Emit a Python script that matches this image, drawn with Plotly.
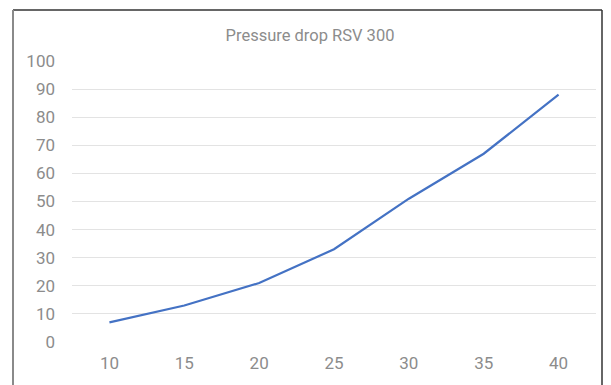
import plotly.graph_objects as go

flow = [10, 15, 20, 25, 30, 35, 40]
pressure_drop = [7, 13, 21, 33, 51, 67, 88]
y_ticks = [0, 10, 20, 30, 40, 50, 60, 70, 80, 90, 100]
title_text = "Pressure drop RSV 300"

fig = go.Figure()
fig.add_trace(go.Scatter(
    x=[str(v) for v in flow], y=pressure_drop, mode="lines",
    line=dict(color="#4472C4", width=2.2), hoverinfo="x+y",
))

font_family = "Roboto, Liberation Sans, sans-serif"
tick_color = "#8c8c8c"

fig.update_layout(
    width=611, height=385,
    paper_bgcolor="white", plot_bgcolor="white",
    margin=dict(l=72, r=15, t=61, b=43),
    showlegend=False,
    title=dict(text=title_text, x=310 / 611, xref="container", xanchor="center",
               y=1 - 35 / 385, yref="container", yanchor="middle",
               font=dict(family=font_family, size=16.5, color="#8c8c8c")),
    xaxis=dict(type="category", range=[-0.5, 6.5], showgrid=False, zeroline=False,
               showline=False, ticks="", ticklabelstandoff=9,
               tickfont=dict(family=font_family, size=17, color=tick_color)),
    yaxis=dict(range=[0, 100], tickvals=y_ticks, showgrid=True, gridcolor="#e3e3e3",
               gridwidth=1, zeroline=False, showline=False, ticks="",
               ticklabelstandoff=16,
               tickfont=dict(family=font_family, size=17, color=tick_color)),
    shapes=[
        dict(type="line", xref="paper", yref="paper", x0=-59/524, x1=530/524,
             y0=332/281, y1=332/281, line=dict(color="#333333", width=1.5)),
        dict(type="line", xref="paper", yref="paper", x0=-59/524, x1=-59/524,
             y0=332/281, y1=-0.2, line=dict(color="#8a8a8a", width=2)),
        dict(type="line", xref="paper", yref="paper", x0=530/524, x1=530/524,
             y0=332/281, y1=-0.2, line=dict(color="#333333", width=1.5)),
    ],
)

fig.write_html("out.html", config={"displayModeBar": False},
               post_script="document.body.style.margin='0';")
